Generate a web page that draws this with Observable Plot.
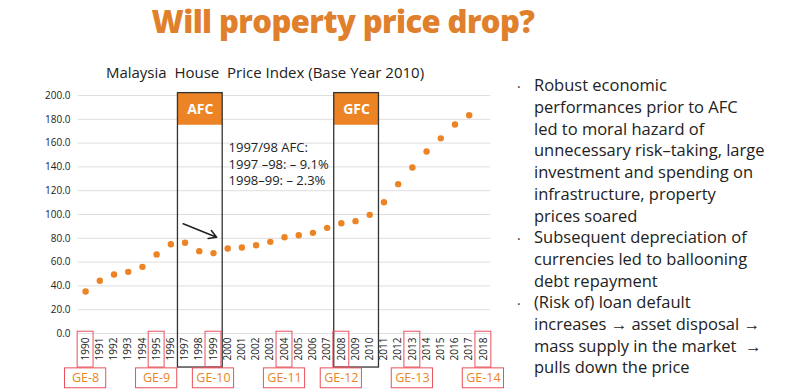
<!DOCTYPE html>
<html>
<head>
<meta charset="utf-8">
<script src="https://cdn.jsdelivr.net/npm/d3@7"></script>
<script src="https://cdn.jsdelivr.net/npm/@observablehq/plot@0.6"></script>
<style>
  html, body { margin: 0; padding: 0; background: #fff; }
  #wrap { position: relative; width: 800px; height: 392px; overflow: hidden; font-family: "Open Sans", sans-serif; }
  #chart { position: absolute; left: 0; top: 0; }
  #title { position: absolute; left: 0; width: 686px; top: 0px; text-align: center; font-size: 31px; font-weight: 800; color: #e07f2c; letter-spacing: -0.6px; }
  #subtitle { position: absolute; left: 0; width: 530px; top: 62px; text-align: center; font-size: 15px; color: #222; }
  .bl { position: absolute; left: 534px; font-size: 16.5px; line-height: 21.8px; color: #222; white-space: nowrap; }
  .dot { position: absolute; left: 517px; font-size: 14px; color: #333; }
</style>
</head>
<body>
<div id="wrap">
  <div id="chart"></div>
  <div id="title">Will property price drop?</div>
  <div id="subtitle">Malaysia&nbsp; House&nbsp; Price Index (Base Year 2010)</div>
  <div class="dot" style="top:77px">·</div>
  <div class="bl" style="top:74px">Robust economic<br>performances prior to AFC<br>led to moral hazard of<br>unnecessary risk–taking, large<br>investment and spending on<br>infrastructure, property<br>prices soared</div>
  <div class="dot" style="top:229px">·</div>
  <div class="bl" style="top:226px">Subsequent depreciation of<br>currencies led to ballooning<br>debt repayment</div>
  <div class="dot" style="top:294px">·</div>
  <div class="bl" style="top:291px">(Risk of) loan default<br>increases → asset disposal →<br>mass supply in the market &nbsp;→<br>pulls down the price</div>
</div>
<script>
// Data
const tickYears = [1990,1991,1992,1993,1994,1995,1996,1997,1998,1999,2000,2001,2002,2003,2004,2005,2006,2007,2008,2009,2010,2011,2012,2013,2014,2015,2016,2017,2018];
const hpiYears = [1990,1991,1992,1993,1994,1995,1996,1997,1998,1999,2000,2001,2002,2003,2004,2005,2006,2007,2008,2009,2010,2011,2012,2013,2014,2015,2016,2017];
const hpiValues = [35.3,44.3,49.6,51.8,56.0,66.4,75.0,76.2,69.2,67.5,71.4,72.3,74.2,77.0,80.9,82.6,84.6,88.8,92.7,94.4,99.7,110.3,125.5,139.5,153.0,164.0,175.6,183.4];
const yTicks = [0,20,40,60,80,100,120,140,160,180,200];
const crisisLabels = ["AFC","GFC"];
const crisisStart = [1997, 2008];
const crisisEnd = [1999, 2010];
const geYears = [1990,1995,1999,2004,2008,2013,2018];
const geLabels = ["GE-8","GE-9","GE-10","GE-11","GE-12","GE-13","GE-14"];
const noteLines = ["1997/98 AFC:", "1997 –98: – 9.1%", "1998–99: – 2.3%"];

const orange = "#ec8425";
const red = "#e9505e";

const hpi = hpiYears.map((y,i) => ({year: y, value: hpiValues[i]}));
const crises = crisisLabels.map((l,i) => ({label: l, x1: crisisStart[i] - 0.5, x2: crisisEnd[i] + 0.65, xm: (crisisStart[i] + crisisEnd[i] + 0.15) / 2}));
const ge = geYears.map((y,i) => ({year: y, label: geLabels[i]}));
const notes = noteLines.map((t,i) => ({t, i}));

const chart = Plot.plot({
  width: 800,
  height: 392,
  marginLeft: 78,
  marginRight: 310,
  marginTop: 95,
  marginBottom: 59,
  style: {fontFamily: "Open Sans, sans-serif", color: "#222", background: "transparent"},
  x: {domain: [1989.5, 2018.5]},
  y: {domain: [0, 200]},
  marks: [
    Plot.ruleY(yTicks, {stroke: "#dedede", strokeWidth: 1}),
    Plot.axisY({ticks: yTicks, tickFormat: d => d.toFixed(1), tickSize: 0, tickPadding: 8, fontSize: 10, label: null}),
    Plot.axisX({ticks: tickYears, tickFormat: d => String(d), tickRotate: -90, tickSize: 0, tickPadding: 4, fontSize: 10, label: null}),
    // crisis boxes
    Plot.rect(crises, {x1: "x1", x2: "x2", y1: 175, y2: 202, fill: orange}),
    Plot.rect(crises, {x1: "x1", x2: "x2", y1: -28.6, y2: 202, fill: "none", stroke: "#333", strokeWidth: 1.3}),
    Plot.text(crises, {x: "xm", y: 188.5, text: "label", fill: "white", fontWeight: 700, fontSize: 14}),
    // election boxes
    Plot.rect(ge, {x1: d => d.year - 0.56, x2: d => d.year + 0.56, y1: -28.6, y2: 1.5, fill: "none", stroke: red, strokeWidth: 1}),
    Plot.rect(ge, {x1: d => d.year - 1.45, x2: d => d.year + 1.45, y1: -46, y2: -29.3, fill: "none", stroke: red, strokeWidth: 1}),
    Plot.text(ge, {x: "year", y: -37.7, text: "label", fill: orange, fontSize: 12.5}),
    // data
    Plot.dot(hpi, {x: "year", y: "value", r: 3.2, fill: orange, stroke: "none"}),
    // annotation
    Plot.text(notes, {x: 2000.06, y: d => 155.7 - d.i * 13.8, text: "t", textAnchor: "start", fontSize: 13, fill: "#222"}),
    Plot.arrow([{x1: 1996.87, y1: 92.2, x2: 1999.22, y2: 80.9}], {x1: "x1", y1: "y1", x2: "x2", y2: "y2", stroke: "#222", strokeWidth: 1.6, headLength: 8})
  ]
});
document.getElementById("chart").appendChild(chart);
</script>
</body>
</html>
